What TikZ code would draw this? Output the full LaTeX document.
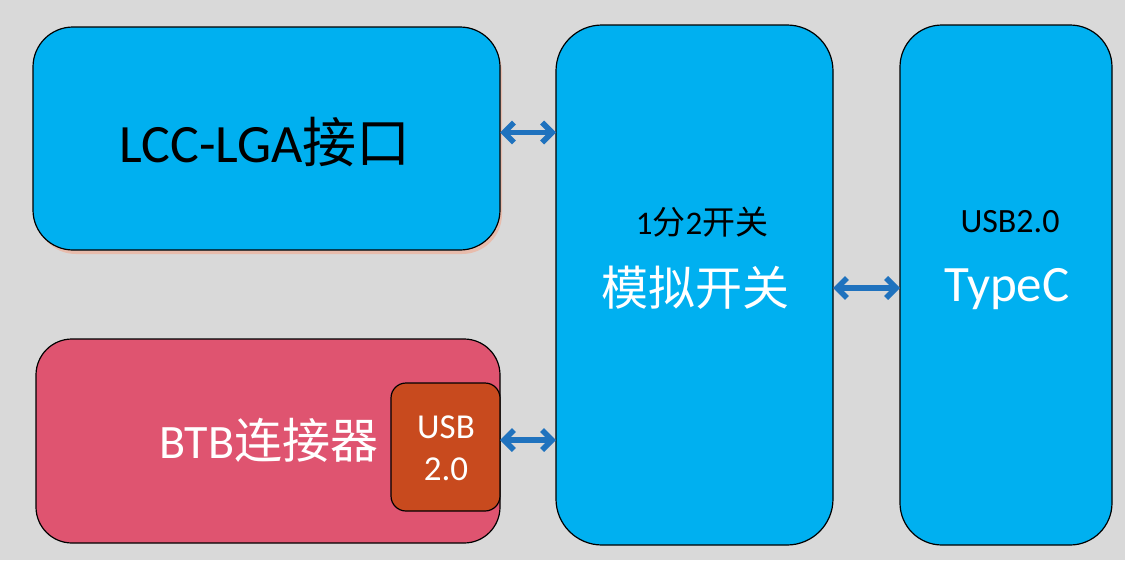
\documentclass[tikz,border=0pt]{standalone}
\usepackage{fontspec}
\setmainfont{Carlito}
\newfontfamily\cjk{Noto Sans CJK SC}
\usetikzlibrary{arrows.meta}
\definecolor{bg}{HTML}{D9D9D9}
\definecolor{sky}{HTML}{00B0F0}
\definecolor{rose}{HTML}{DF5470}
\definecolor{rust}{HTML}{C84A1E}
\definecolor{arr}{HTML}{1F72BE}
\definecolor{glow}{HTML}{F2A98F}
\tikzset{
  blk/.style={draw=black, line width=1.2pt, inner sep=0pt, outer sep=0pt},
  conn/.style={draw=arr, line width=5.5pt, arrows={Straight Barb[length=10pt,width=20pt]-Straight Barb[length=10pt,width=20pt]}},
  txt/.style={inner sep=0pt, anchor=center}
}
\begin{document}
\begin{tikzpicture}[x=1pt,y=-1pt]
\fill[bg] (0,0) rectangle (1125,560);
\useasboundingbox (0,0) rectangle (1125,560);
% shadow of LCC box
\fill[glow, opacity=0.6, rounded corners=40pt] (36,32) rectangle (502,254);
% boxes
\node[blk, fill=sky, rounded corners=40pt, minimum width=467pt, minimum height=223pt] (lcc) at (266.5,138.5) {};
\node[blk, fill=rose, rounded corners=36pt, minimum width=464pt, minimum height=204pt] (btb) at (268,441) {};
\node[blk, fill=rust, rounded corners=15pt, minimum width=109pt, minimum height=128pt] (usb) at (445.5,447) {};
\node[blk, fill=sky, rounded corners=46pt, minimum width=277pt, minimum height=520pt] (sw) at (694.5,285) {};
\node[blk, fill=sky, rounded corners=42pt, minimum width=212pt, minimum height=520pt] (tc) at (1006,285) {};
% texts
\node[txt, font=\fontsize{54}{60}\selectfont] (lcct) at (265,142) {LCC-LGA{\cjk 接口}};
\node[txt, text=white, font=\fontsize{48}{54}\selectfont] (btbt) at (269,440) {BTB{\cjk 连接器}};
\node[txt, text=white, align=center, font=\fontsize{35}{42}\selectfont] (usbt) at (446,448) {USB\\2.0};
\node[txt, font=\fontsize{33}{38}\selectfont] (swt1) at (702,222) {1{\cjk 分}2{\cjk 开关}};
\node[txt, text=white, font=\fontsize{47}{52}\selectfont\cjk] (swt2) at (695,288) {模拟开关};
\node[txt, font=\fontsize{34}{38}\selectfont] (tct1) at (1010,222) {USB2.0};
\node[txt, text=white, font=\fontsize{51}{56}\selectfont] (tct2) at (1007,289) {TypeC};
% connectors
\draw[conn] ([yshift=6pt]lcc.east) -- ([yshift=6pt]lcc.east -| sw.west);
\draw[conn] ([yshift=7pt]usb.east) -- ([yshift=7pt]usb.east -| sw.west);
\draw[conn] ([yshift=-3pt]sw.east) -- ([yshift=-3pt]tc.west);
\end{tikzpicture}
\end{document}
